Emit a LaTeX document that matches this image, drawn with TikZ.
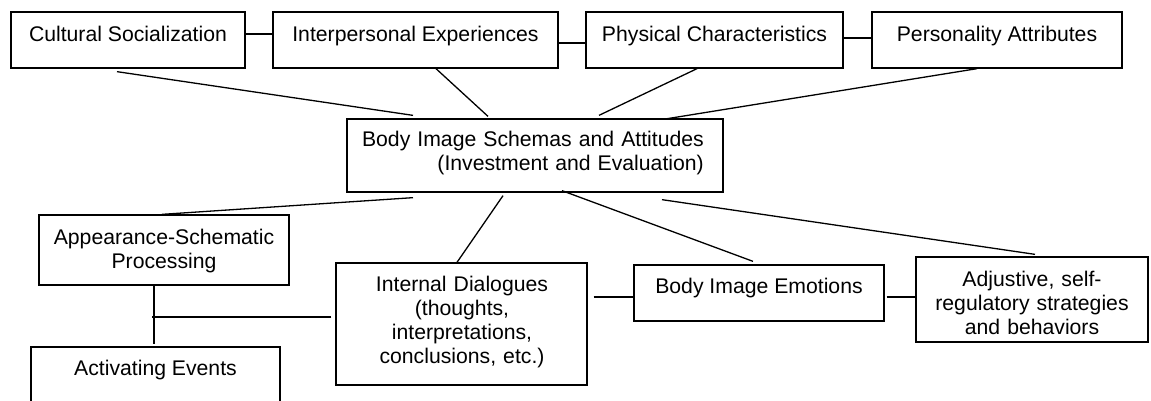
\documentclass[tikz,border=0pt]{standalone}
\usepackage{fontspec}
\setmainfont{Liberation Sans}
\begin{document}
\begin{tikzpicture}[x=1pt,y=-1pt,
  box/.style={draw, line width=1.3pt, inner sep=0pt},
  txt/.style={inner sep=0pt, font=\fontsize{21.2pt}{24pt}\selectfont, align=center},
  link/.style={line width=1.3pt}]
\clip (0,0) rectangle (1151,400);
\fill[white] (0,0) rectangle (1151,400);
% boxes
\node[box, minimum width=234pt, minimum height=56pt] (cs) at (128,40) {};
\node[box, minimum width=285pt, minimum height=56pt] (ie) at (415.5,40) {};
\node[box, minimum width=257pt, minimum height=56pt] (pc) at (714.5,40) {};
\node[box, minimum width=250pt, minimum height=56pt] (pa) at (997,40) {};
\node[box, minimum width=376pt, minimum height=73pt] (bis) at (535,155.5) {};
\node[box, minimum width=250pt, minimum height=70pt] (asp) at (164,250) {};
\node[box, minimum width=249pt, minimum height=73pt] (act) at (155.5,383.5) {};
\node[box, minimum width=251pt, minimum height=122pt] (id) at (461.5,324) {};
\node[box, minimum width=250pt, minimum height=56pt] (bie) at (759,293) {};
\node[box, minimum width=232pt, minimum height=85pt] (adj) at (1032,299.5) {};
% texts
\node[txt, anchor=base] (cs-t) at (128,41) {Cultural Socialization};
\node[txt, anchor=base] (ie-t) at (415.5,41) {Interpersonal Experiences};
\node[txt, anchor=base] (pc-t) at (714.5,41) {Physical Characteristics};
\node[txt, anchor=base] (pa-t) at (997,41) {Personality Attributes};
\node[txt, anchor=base east, text width=345pt, align=right] (bis-t) at (704,146.5) {Body Image Schemas and Attitudes\\(Investment and Evaluation)};
\node[txt, anchor=base, text width=240pt] (asp-t) at (164,244.5) {Appearance-Schematic\\Processing};
\node[txt, anchor=base] (act-t) at (155.5,375.5) {Activating Events};
\node[txt, anchor=base, text width=240pt] (id-t) at (462,291.5) {Internal Dialogues\\(thoughts,\\interpretations,\\conclusions, etc.)};
\node[txt, anchor=base] (bie-t) at (759,293.5) {Body Image Emotions};
\node[txt, anchor=base, text width=225pt] (adj-t) at (1032,286.5) {Adjustive, self-\\regulatory strategies\\and behaviors};
% top row links
\draw[link] ([yshift=6pt]cs.east) -- ([yshift=6pt]ie.west);
\draw[link] ([yshift=-3pt]ie.east) -- ([yshift=-3pt]pc.west);
\draw[link] ([yshift=2pt]pc.east) -- ([yshift=2pt]pa.west);
% links into schema box
\draw[link] ([xshift=-11pt,yshift=-3pt]cs.south) -- ([xshift=-122pt,yshift=3pt]bis.north);
\draw[link] ([xshift=20.5pt]ie.south) -- ([xshift=-47pt,yshift=2pt]bis.north);
\draw[link] ([xshift=-17.5pt]pc.south) -- ([xshift=64pt,yshift=3pt]bis.north);
\draw[link] ([xshift=-20pt]pa.south) -- ([xshift=128pt,yshift=-1pt]bis.north);
% links out of schema box
\draw[link] ([xshift=-122pt,yshift=-5pt]bis.south) -- ([xshift=-2pt]asp.north);
\draw[link] ([xshift=-32pt,yshift=-3pt]bis.south) -- ([xshift=-4.5pt]id.north);
\draw[link] ([xshift=27pt,yshift=2pt]bis.south) -- ([xshift=-6pt,yshift=3pt]bie.north);
\draw[link] ([xshift=127pt,yshift=-7pt]bis.south) -- ([xshift=3pt,yshift=2pt]adj.north);
% lower links
\draw[link] ([xshift=-10pt]asp.south) -- ([xshift=-1.5pt,yshift=2pt]act.north);
\coordinate (junc) at (152,317);
\draw[link] ([xshift=-4pt,yshift=7pt]id.west) -- (junc);
\draw[link] ([xshift=6pt,yshift=27pt]id.east) -- ([yshift=-4pt]bie.west);
\draw[link] ([xshift=2pt,yshift=-4pt]bie.east) -- ([yshift=2.5pt]adj.west);
\end{tikzpicture}
\end{document}
